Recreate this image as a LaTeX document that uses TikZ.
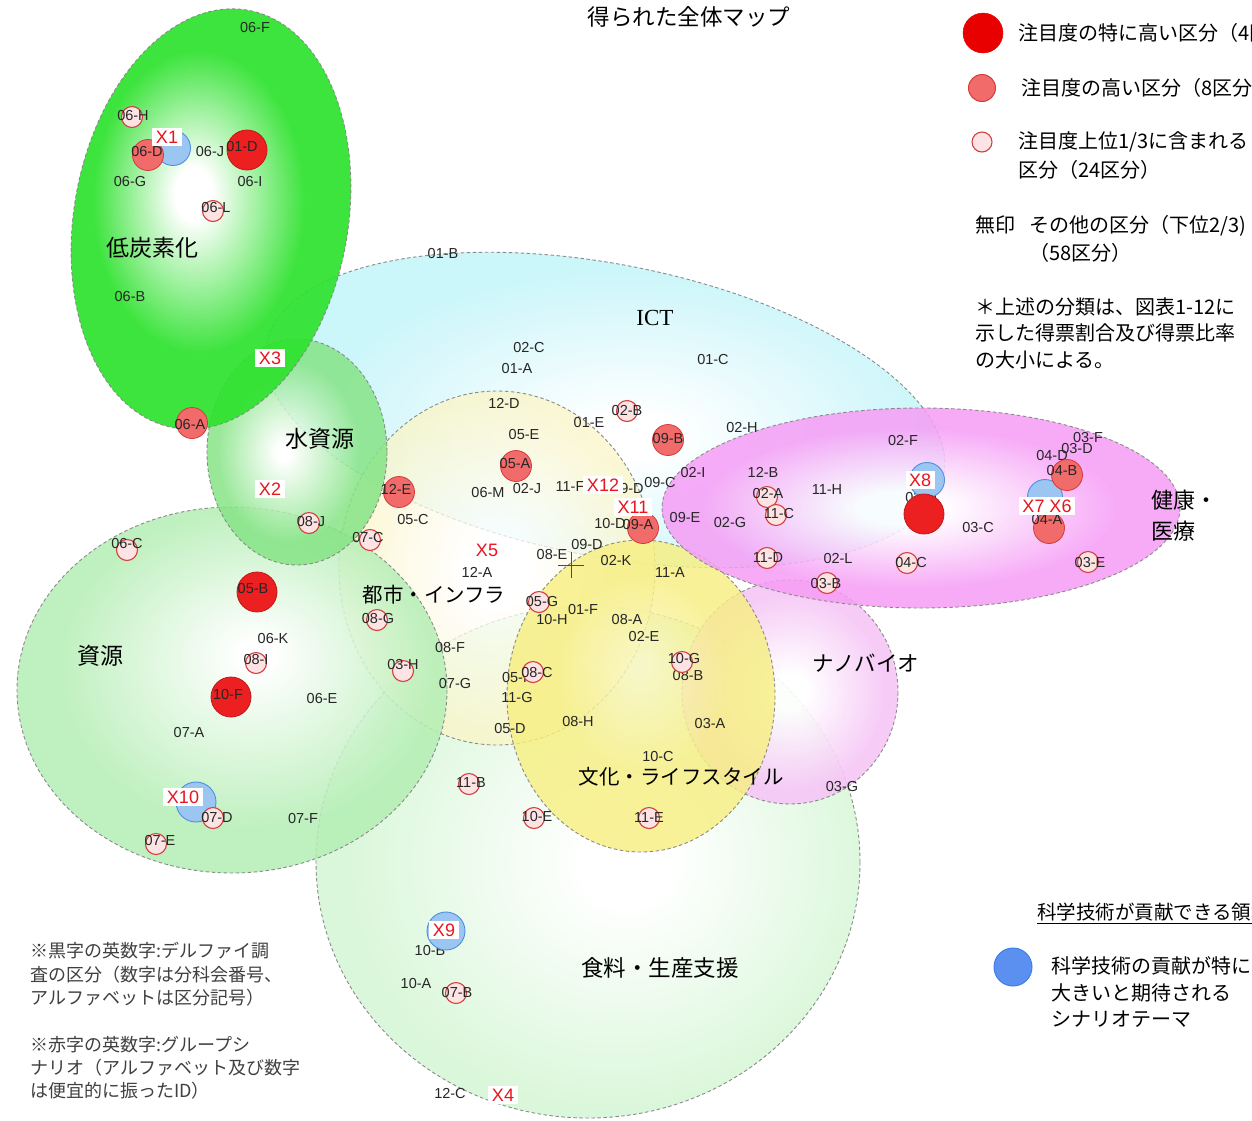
\documentclass[tikz,border=0pt]{standalone}
\usepackage{fontspec}
\setmainfont{Liberation Sans}
\newfontfamily\jp{Noto Sans CJK JP}
\newfontfamily\ser{Liberation Serif}
\definecolor{cLow}{HTML}{2EE22E}
\definecolor{cWater}{HTML}{86E486}
\definecolor{cRes}{HTML}{B4EEB4}
\definecolor{cFood}{HTML}{DBF7DB}
\definecolor{cICT}{HTML}{C4F5FA}
\definecolor{cCity}{HTML}{FBF5C6}
\definecolor{cCult}{HTML}{F7EF82}
\definecolor{cNano}{HTML}{F6C6F6}
\definecolor{cHealth}{HTML}{F69DF6}
\definecolor{cBig}{HTML}{EC2020}
\definecolor{cBigD}{HTML}{C01818}
\definecolor{cMed}{HTML}{F26B6B}
\definecolor{cMedD}{HTML}{D53A3A}
\definecolor{cSmall}{HTML}{FDE3E3}
\definecolor{cSmallD}{HTML}{D24040}
\definecolor{cBlue}{HTML}{9CC6F2}
\definecolor{cBlueD}{HTML}{4F8EE0}
\definecolor{legRed}{HTML}{E80000}
\definecolor{legBlue}{HTML}{5B90F0}
\definecolor{legBlueD}{HTML}{3F7FE8}
\definecolor{xred}{HTML}{E8141E}
\definecolor{bord}{HTML}{8A8A8A}
\pgfdeclareradialshading{rsLow}{\pgfpoint{-3bp}{3bp}}{color(0bp)=(white);color(3bp)=(white);color(17bp)=(cLow);color(50bp)=(cLow)}
\pgfdeclareradialshading{rsWater}{\pgfpoint{-4bp}{0bp}}{color(0bp)=(white);color(2bp)=(white);color(20bp)=(cWater);color(50bp)=(cWater)}
\pgfdeclareradialshading{rsRes}{\pgfpoint{3bp}{5bp}}{color(0bp)=(white);color(2bp)=(white);color(22bp)=(cRes);color(50bp)=(cRes)}
\pgfdeclareradialshading{rsFood}{\pgfpoint{4bp}{0bp}}{color(0bp)=(white);color(4bp)=(white);color(24bp)=(cFood);color(50bp)=(cFood)}
\pgfdeclareradialshading{rsICT}{\pgfpoint{2bp}{-4bp}}{color(0bp)=(white);color(3bp)=(white);color(22bp)=(cICT);color(50bp)=(cICT)}
\pgfdeclareradialshading{rsCity}{\pgfpoint{0bp}{0bp}}{color(0bp)=(white);color(5bp)=(white);color(24bp)=(cCity);color(50bp)=(cCity)}
\pgfdeclareradialshading{rsCult}{\pgfpoint{0bp}{5bp}}{color(0bp)=(white!55!cCult);color(16bp)=(cCult);color(50bp)=(cCult)}
\pgfdeclareradialshading{rsNano}{\pgfpoint{0bp}{0bp}}{color(0bp)=(white);color(4bp)=(white);color(22bp)=(cNano);color(50bp)=(cNano)}
\pgfdeclareradialshading{rsHealth}{\pgfpoint{-2bp}{0bp}}{color(0bp)=(white);color(4bp)=(white);color(20bp)=(cHealth);color(50bp)=(cHealth)}
\tikzset{
 lbl/.style={font=\fontsize{14.5}{16}\selectfont, text=black!85, inner sep=0pt},
 xlab/.style={font=\fontsize{18}{20}\selectfont, text=xred, fill=white, inner xsep=3.5pt, inner ysep=2.5pt},
 bigdot/.style={circle, fill=cBig, draw=cBigD, line width=0.8pt, minimum size=40pt, inner sep=0pt},
 meddot/.style={circle, fill=cMed, draw=cMedD, line width=0.8pt, minimum size=31pt, inner sep=0pt},
 smalldot/.style={circle, fill=cSmall, draw=cSmallD, line width=1.1pt, minimum size=21pt, inner sep=0pt},
 bluedot/.style={circle, fill=cBlue, draw=cBlueD, line width=0.9pt, minimum size=35pt, inner sep=0pt},
 rb/.style={draw=bord, dash pattern=on 3.5pt off 2.5pt, line width=0.9pt},
 rlab/.style={font=\jp\fontsize{21}{24}\selectfont, inner sep=0pt, text=black},
 leg/.style={font=\jp\fontsize{20}{24}\selectfont, inner sep=0pt, anchor=west, text=black},
 note/.style={font=\jp\fontsize{18}{22}\selectfont, inner sep=0pt, anchor=west, text=black!75},
}
\newcommand\mkdot[5]{\node[#1] (c#2) at (#3) {}; \node[lbl] (t#2) at (#4) {#5};}
\newcommand\tx[3]{\node[lbl] (p#1) at (#2) {#3};}
\begin{document}
\begin{tikzpicture}[x=1pt,y=-1pt]
\path[use as bounding box] (0,0) rectangle (1252,1120);
\clip (0,0) rectangle (1252,1120);
\fill[white] (0,0) rectangle (1252,1120);

% ---------- regions ----------
\shade[shading=rsFood] (588,862) ellipse [x radius=272, y radius=256];
\draw[rb] (588,862) ellipse [x radius=272, y radius=256];

\shade[shading=rsNano, fill opacity=0.9] (790,692) ellipse [x radius=108, y radius=112];
\draw[rb] (790,692) ellipse [x radius=108, y radius=112];

\shade[shading=rsICT, fill opacity=0.88, rotate around={-11:(605,410)}] (605,410) ellipse [x radius=345, y radius=146];
\draw[rb, rotate around={-11:(605,410)}] (605,410) ellipse [x radius=345, y radius=146];

\shade[shading=rsCity, fill opacity=0.75] (497,568) ellipse [x radius=158, y radius=177];
\draw[rb] (497,568) ellipse [x radius=158, y radius=177];

\shade[shading=rsCult, fill opacity=0.82] (641,696) ellipse [x radius=134, y radius=156];
\draw[rb] (641,696) ellipse [x radius=134, y radius=156];

\shade[shading=rsRes, fill opacity=0.85] (232,690) ellipse [x radius=215, y radius=183];
\draw[rb] (232,690) ellipse [x radius=215, y radius=183];

\shade[shading=rsHealth, fill opacity=0.85] (921,508) ellipse [x radius=259, y radius=100];
\draw[rb] (921,508) ellipse [x radius=259, y radius=100];

\shade[shading=rsWater, fill opacity=0.85] (297,452) ellipse [x radius=90, y radius=113];
\draw[rb] (297,452) ellipse [x radius=90, y radius=113];

\shade[shading=rsLow, fill opacity=0.92, rotate around={-10:(211,219)}] (211,219) ellipse [x radius=137, y radius=212];
\draw[rb, rotate around={-10:(211,219)}] (211,219) ellipse [x radius=137, y radius=212];

% ---------- crosshair ----------
\coordinate (cross) at (571,565);
\draw[black!70, line width=0.8pt] ([xshift=-13pt]cross) -- ([xshift=13pt]cross);
\draw[black!70, line width=0.8pt] ([yshift=13pt]cross) -- ([yshift=-13pt]cross);

% ---------- plain labels ----------
\tx{06F}{255,28}{06-F}
\tx{06J}{210,152}{06-J}
\tx{06G}{130,182}{06-G}
\tx{06I}{250,182}{06-I}
\tx{06B}{130,297}{06-B}
\tx{01B}{443,254}{01-B}
\tx{02C}{529,347}{02-C}
\tx{01A}{517,368}{01-A}
\tx{01C}{713,359}{01-C}
\tx{12D}{504,403}{12-D}
\tx{01E}{589,422}{01-E}
\tx{05E}{524,434}{05-E}
\tx{02H}{742,427}{02-H}
\tx{06M}{488,492}{06-M}
\tx{02J}{527,488}{02-J}
\tx{11F}{570,487}{11-F}
\tx{09Da}{628,488}{09-D}
\tx{09C}{660,482}{09-C}
\tx{02I}{693,472}{02-I}
\tx{10D}{610,523}{10-D}
\tx{09E}{685,517}{09-E}
\tx{05C}{413,519}{05-C}
\tx{02F}{903,440}{02-F}
\tx{12B}{763,472}{12-B}
\tx{11H}{827,490}{11-H}
\tx{02G}{730,522}{02-G}
\tx{02L}{838,558}{02-L}
\tx{03C}{978,527}{03-C}
\tx{03F}{1088,437}{03-F}
\tx{03D}{1077,448}{03-D}
\tx{04D}{1052,455}{04-D}
\tx{02D}{921,497}{02-D}
\tx{12A}{477,572}{12-A}
\tx{08E}{552,554}{08-E}
\tx{09Db}{587,544}{09-D}
\tx{02K}{616,560}{02-K}
\tx{11A}{670,572}{11-A}
\tx{10H}{552,619}{10-H}
\tx{01F}{583,609}{01-F}
\tx{08A}{627,619}{08-A}
\tx{02E}{644,636}{02-E}
\tx{08F}{450,647}{08-F}
\tx{08B}{688,675}{08-B}
\tx{05F}{517,677}{05-F}
\tx{11G}{517,697}{11-G}
\tx{07G}{455,683}{07-G}
\tx{05D}{510,728}{05-D}
\tx{08H}{578,721}{08-H}
\tx{03A}{710,723}{03-A}
\tx{10C}{658,756}{10-C}
\tx{03G}{842,786}{03-G}
\tx{06K}{273,638}{06-K}
\tx{06E}{322,698}{06-E}
\tx{07A}{189,732}{07-A}
\tx{07F}{303,818}{07-F}
\tx{10B}{430,950}{10-B}
\tx{10A}{416,983}{10-A}
\tx{12C}{450,1093}{12-C}

% ---------- blue theme circles ----------
\node[bluedot] (bX1) at (173,148) {};
\node[bluedot] (bX8) at (927,480) {};
\node[bluedot] (bX7) at (1045,497) {};
\node[bluedot, minimum size=40pt] (bX10) at (196,802) {};
\node[bluedot, minimum size=38pt] (bX9) at (446,931) {};

% ---------- red circles ----------
\mkdot{meddot}{06D}{148,155}{147,152}{06-D}
\mkdot{meddot}{06A}{192,423}{190,424}{06-A}
\mkdot{meddot}{05A}{516,466}{515,463}{05-A}
\mkdot{meddot}{09B}{668,440}{668,438}{09-B}
\mkdot{meddot}{12E}{399,492}{396,489}{12-E}
\mkdot{meddot}{09A}{643,528}{638,524}{09-A}
\mkdot{meddot}{04B}{1067,475}{1062,470}{04-B}
\mkdot{meddot}{04A}{1049,528}{1047,519}{04-A}
\mkdot{bigdot}{01D}{247,150}{242,147}{01-D}
\mkdot{bigdot}{05B}{257,592}{253,588}{05-B}
\mkdot{bigdot}{10F}{231,697}{228,694}{10-F}
\node[bigdot] (c02Dbig) at (924,514) {};

\mkdot{smalldot}{06H}{132,117}{133,116}{06-H}
\mkdot{smalldot}{06L}{213,211}{216,208}{06-L}
\mkdot{smalldot}{02B}{627,411}{627,410}{02-B}
\mkdot{smalldot}{07C}{370,540}{368,537}{07-C}
\mkdot{smalldot}{08J}{309,523}{311,521}{08-J}
\mkdot{smalldot}{06C}{127,550}{127,543}{06-C}
\mkdot{smalldot}{02A}{767,497}{768,493}{02-A}
\mkdot{smalldot}{11C}{776,515}{779,513}{11-C}
\mkdot{smalldot}{11D}{767,558}{768,557}{11-D}
\mkdot{smalldot}{03B}{827,583}{826,583}{03-B}
\mkdot{smalldot}{04C}{907,563}{911,562}{04-C}
\mkdot{smalldot}{03E}{1088,562}{1090,562}{03-E}
\mkdot{smalldot}{08G}{377,620}{378,618}{08-G}
\mkdot{smalldot}{03H}{403,671}{403,664}{03-H}
\mkdot{smalldot}{08I}{256,663}{256,659}{08-I}
\mkdot{smalldot}{07D}{213,818}{217,817}{07-D}
\mkdot{smalldot}{07E}{156,844}{160,840}{07-E}
\mkdot{smalldot}{05G}{539,602}{542,601}{05-G}
\mkdot{smalldot}{08C}{533,672}{537,672}{08-C}
\mkdot{smalldot}{10G}{682,662}{684,658}{10-G}
\mkdot{smalldot}{11B}{469,784}{471,782}{11-B}
\mkdot{smalldot}{10E}{534,818}{537,816}{10-E}
\mkdot{smalldot}{11E}{649,818}{649,817}{11-E}
\mkdot{smalldot}{07B}{456,993}{457,992}{07-B}

% ---------- scenario labels ----------
\node[xlab] (X1) at (167,137) {X1};
\node[xlab] (X3) at (270,358) {X3};
\node[xlab] (X2) at (270,489) {X2};
\node[xlab] (X12) at (603,485) {X12};
\node[xlab] (X11) at (633,507) {X11};
\node[xlab] (X5) at (487,550) {X5};
\node[xlab] (X8) at (920,480) {X8};
\node[xlab] (X76) at (1047,506) {X7 X6};
\node[xlab] (X10) at (183,797) {X10};
\node[xlab] (X9) at (444,930) {X9};
\node[xlab] (X4) at (503,1095) {X4};

% ---------- region names ----------
\node[rlab, font=\jp\fontsize{23}{24}\selectfont] (rLow) at (152,248) {低炭素化};
\node[rlab, font=\jp\fontsize{23}{24}\selectfont] (rWater) at (320,439) {水資源};
\node[rlab, font=\jp\fontsize{23}{24}\selectfont] (rRes) at (100,656) {資源};
\node[rlab, font=\jp\fontsize{20.5}{24}\selectfont] (rCity) at (434,595) {都市・インフラ};
\node[inner sep=0pt, font=\ser\fontsize{23}{24}\selectfont] (rICT) at (655,318) {ICT};
\node[rlab, font=\jp\fontsize{20.5}{24}\selectfont] (rCult) at (681,777) {文化・ライフスタイル};
\node[rlab, font=\jp\fontsize{21.5}{24}\selectfont] (rNano) at (866,663) {ナノバイオ};
\node[rlab, font=\jp\fontsize{22.5}{24}\selectfont] (rFood) at (660,968) {食料・生産支援};
\node[rlab, anchor=west, font=\jp\fontsize{22}{24}\selectfont] (rHealth1) at (1151,500) {健康・};
\node[rlab, anchor=west, font=\jp\fontsize{22}{24}\selectfont] (rHealth2) at (1151,531) {医療};

% ---------- title ----------
\node[rlab, font=\jp\fontsize{22.5}{24}\selectfont] (title) at (689,17) {得られた全体マップ};

% ---------- legend ----------
\node[circle, fill=legRed, draw=legRed, minimum size=40pt, inner sep=0pt] (lg1) at (983,33) {};
\node[leg] (lt1) at (1018,33) {注目度の特に高い区分（4区分）};
\node[circle, fill=cMed, draw=cMedD, line width=1pt, minimum size=27pt, inner sep=0pt] (lg2) at (982,88) {};
\node[leg] (lt2) at (1021,88) {注目度の高い区分（8区分）};
\node[smalldot, minimum size=20pt] (lg3) at (982,142) {};
\node[leg] (lt3) at (1018,142) {注目度上位1/3に含まれる};
\node[leg] (lt3b) at (1018,170) {区分（24区分）};
\node[leg] (lt4) at (975,226) {無印\hspace{14pt}その他の区分（下位2/3)};
\node[leg] (lt4b) at (1029,253) {（58区分）};
\node[leg] (lt5) at (975,307) {＊上述の分類は、図表1-12に};
\node[leg] (lt5b) at (975,333) {示した得票割合及び得票比率};
\node[leg] (lt5c) at (975,360) {の大小による。};

\node[leg, font=\jp\fontsize{19.5}{24}\selectfont] (hd) at (1037,912) {科学技術が貢献できる領域};
\draw[line width=1pt] ([yshift=-2pt]hd.south west) -- ([yshift=-2pt]hd.south east);
\node[circle, fill=legBlue, draw=legBlueD, line width=1pt, minimum size=38pt, inner sep=0pt] (lgb) at (1013,967) {};
\node[leg] (lb1) at (1051,966) {科学技術の貢献が特に};
\node[leg] (lb2) at (1051,993) {大きいと期待される};
\node[leg] (lb3) at (1051,1019) {シナリオテーマ};

% ---------- notes ----------
\node[note] (n1) at (30,951) {※黒字の英数字:デルファイ調};
\node[note] (n2) at (30,975) {査の区分（数字は分科会番号、};
\node[note] (n3) at (30,998) {アルファベットは区分記号）};
\node[note] (n4) at (30,1045) {※赤字の英数字:グループシ};
\node[note] (n5) at (30,1068) {ナリオ（アルファベット及び数字};
\node[note] (n6) at (30,1091) {は便宜的に振ったID）};
\end{tikzpicture}
\end{document}
